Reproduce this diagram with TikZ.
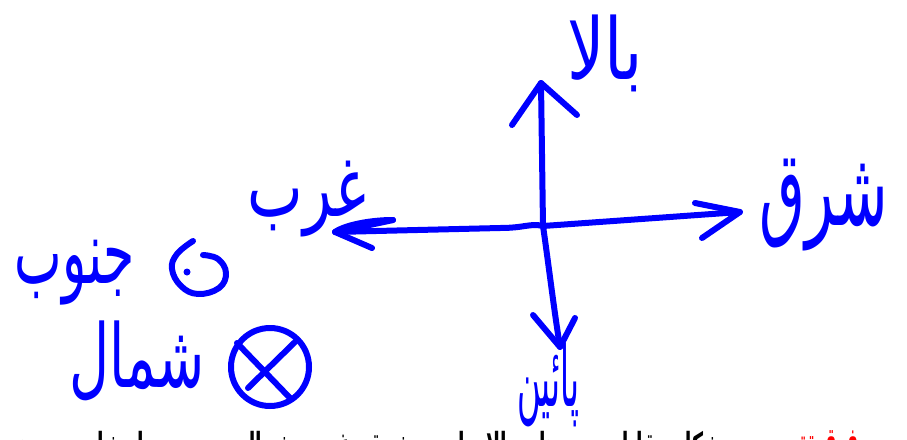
\documentclass[tikz,border=0pt]{standalone}
\usepackage{fontspec}
\newfontfamily\arabicfont[Script=Arabic]{DejaVu Sans}
\TeXXeTstate=1
\definecolor{inkblue}{RGB}{0,0,255}
\newcommand\farsilabel[3]{\resizebox*{#1pt}{#2pt}{\arabicfont\beginR #3\endR}}
\tikzset{
  handline/.style={draw=inkblue, line width=6pt, line cap=round, line join=round},
  lbl/.style={inner sep=0pt, text=inkblue},
}
\begin{document}
\begin{tikzpicture}[x=1pt,y=-1pt]
\useasboundingbox (0,0) rectangle (907,439);
\fill[white] (0,0) rectangle (907,439);
% axes
\coordinate (O) at (543,226);
\coordinate (upTip) at (541,83);
\coordinate (upL) at (512,125);
\coordinate (upR) at (577,115);
\coordinate (rightTip) at (740,212);
\coordinate (rightU) at (695,203);
\coordinate (rightD) at (702,238);
\coordinate (leftTip) at (335,232);
\coordinate (leftU) at (393,220);
\coordinate (leftD) at (372,248);
\coordinate (downTip) at (560,347);
\coordinate (downL) at (533,315);
\coordinate (downR) at (575,318);
\draw[handline] (O) -- (upTip);
\draw[handline] (upL) -- (upTip) -- (upR);
\draw[handline] (O) -- (rightTip);
\draw[handline] (rightU) -- (rightTip) -- (rightD);
\draw[handline] (O) .. controls (530,223) and (525,228) .. (500,228) -- (leftTip);
\draw[handline] (leftU) .. controls (370,220) and (345,225) .. (leftTip) -- (leftD);
\draw[handline] (leftU) .. controls (375,224) and (355,228) .. (leftTip);
\draw[handline] (O) .. controls (548,260) and (554,310) .. (downTip);
\draw[handline] (downL) -- (downTip) -- (downR);
% out-of-page symbol
\coordinate (dotC) at (187,272);
\draw[handline] plot[smooth, tension=0.7] coordinates {(193,241) (177,254) (172,269) (181,286) (198,294) (219,288) (226,273) (218,259) (203,255)};
\fill[inkblue] (dotC) circle (3.5);
% into-page symbol
\coordinate (crossC) at (270,367);
\draw[handline] (crossC) circle (39);
\coordinate (xa1) at (237,343); \coordinate (xa2) at (290,398);
\coordinate (xb1) at (295,342); \coordinate (xb2) at (248,388);
\draw[handline] (xa1) -- (xa2);
\draw[handline] (xb1) -- (xb2);
% labels
\node[lbl] (bala) at (605,53) {\farsilabel{76}{77}{بالا}};
\node[lbl] (sharq) at (824,205) {\farsilabel{128}{92}{شرق}};
\node[lbl] (gharb) at (307,199) {\farsilabel{119}{76}{غرب}};
\node[lbl] (jonub) at (75,273) {\farsilabel{120}{65}{جنوب}};
\node[lbl] (shomal) at (137,361) {\farsilabel{135}{80}{شمال}};
\node[lbl, anchor=south] (payin) at (548,427) {\farsilabel{62}{84}{پائین}};
% clipped caption at the bottom
\begin{scope}
\clip (0,0) rectangle (907,439);
\node[inner sep=0pt] (caption) at (366,449) {\resizebox*{712pt}{36pt}{\arabicfont\bfseries\beginR شکل مقابل جهت‌های بالا، پایین، شرق، غرب، شمال و جنوب را نشان می‌دهد\endR}};
\node[inner sep=0pt] (captionred) at (826,449) {\resizebox*{66pt}{36pt}{\arabicfont\bfseries\color{red}\beginR فوق تق\endR}};
\end{scope}
\end{tikzpicture}
\end{document}
